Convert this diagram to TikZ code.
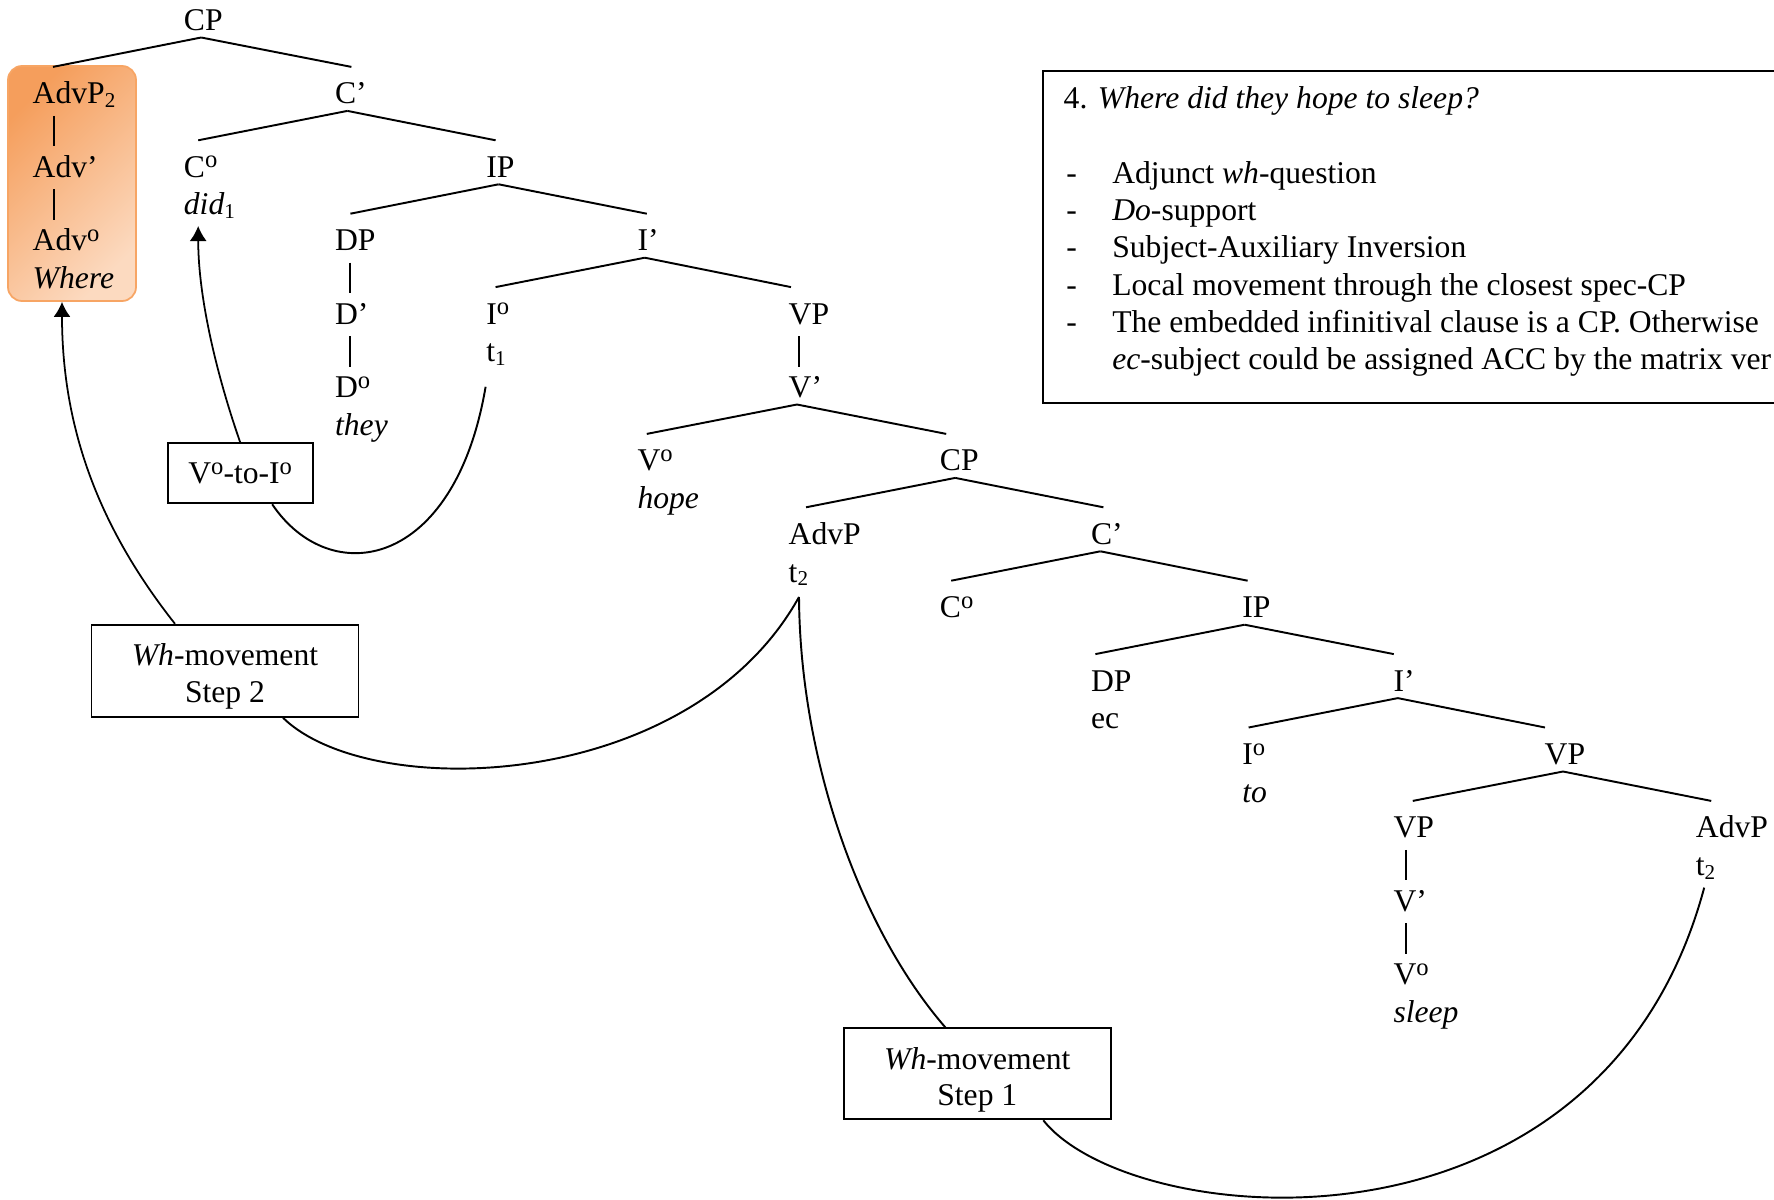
\documentclass[tikz,border=0pt]{standalone}
\usepackage{fontspec}
\setmainfont{Liberation Serif}
\usepackage{tikz}
\usetikzlibrary{calc, arrows.meta}
\definecolor{advdark}{RGB}{245,158,92}
\definecolor{advlight}{RGB}{252,218,192}
\definecolor{advedge}{RGB}{247,165,100}
\newcommand{\hzero}{\raisebox{2.7pt}{\fontsize{7pt}{7pt}\selectfont o}}
\newcommand{\trc}[1]{t\textsubscript{#1}}

\begin{document}
\begin{tikzpicture}[x=0.1mm,y=-0.1mm,
  every node/.style={font=\fontsize{9pt}{10.4pt}\selectfont},
  lbl/.style={inner sep=0pt,anchor=base west},
  branch/.style={line width=0.55pt},
  movebox/.style={draw,rectangle,line width=0.55pt,align=center,inner sep=0pt},
  movearrow/.style={line width=0.5pt,-{Latex[length=1.5mm,width=1.7mm]}}]
\clip (0,0) rectangle (1774,1200);

% the moved adverb, shaded
\node[rectangle,rounded corners=1.4mm,draw=advedge,line width=0.5pt,top color=advdark,bottom color=advlight,shading angle=45,minimum width=12.8mm,minimum height=23.5mm] (whbox) at (72,183.5) {};

% matrix clause
\node[lbl] (cpA) at (183.2,30.5) {CP};
\node[lbl] (advpA) at (32,103.9) {AdvP\textsubscript{2}};
\node[lbl] (advbarA) at (32,177.3) {Adv’};
\node[lbl] (advzeroA) at (32,250.7) {Adv\hzero};
\node[lbl] (whereA) at (32,288.4) {\textit{Where}};
\node[lbl] (cbarA) at (334.4,103.9) {C’};
\node[lbl] (czeroA) at (183.2,177.3) {C\hzero};
\node[lbl] (didA) at (183.2,215) {\textit{did}\textsubscript{1}};
\node[lbl] (ipA) at (485.6,177.3) {IP};
\node[lbl] (dpA) at (334.4,250.7) {DP};
\node[lbl] (dbarA) at (334.4,324.1) {D’};
\node[lbl] (dzeroA) at (334.4,397.5) {D\hzero};
\node[lbl] (theyA) at (334.4,435.2) {\textit{they}};
\node[lbl] (ibarA) at (636.8,250.7) {I’};
\node[lbl] (izeroA) at (485.6,324.1) {I\hzero};
\node[lbl] (tA) at (485.6,361.8) {\trc{1}};
\node[lbl] (vpA) at (788,324.1) {VP};
\node[lbl] (vbarA) at (788,397.5) {V’};
\node[lbl] (vzeroA) at (636.8,470.9) {V\hzero};
\node[lbl] (hopeA) at (636.8,508.6) {\textit{hope}};

% embedded clause
\node[lbl] (cpB) at (939.2,470.9) {CP};
\node[lbl] (advpB) at (788,544.3) {AdvP};
\node[lbl] (tB) at (788,582) {\trc{2}};
\node[lbl] (cbarB) at (1090.4,544.3) {C’};
\node[lbl] (czeroB) at (939.2,617.7) {C\hzero};
\node[lbl] (ipB) at (1241.6,617.7) {IP};
\node[lbl] (dpB) at (1090.4,691.1) {DP};
\node[lbl] (ecB) at (1090.4,728.8) {ec};
\node[lbl] (ibarB) at (1392.8,691.1) {I’};
\node[lbl] (izeroB) at (1241.6,764.5) {I\hzero};
\node[lbl] (toB) at (1241.6,802.2) {\textit{to}};
\node[lbl] (vpB) at (1544,764.5) {VP};
\node[lbl] (vpC) at (1392.8,837.9) {VP};
\node[lbl] (vbarC) at (1392.8,911.3) {V’};
\node[lbl] (vzeroC) at (1392.8,984.7) {V\hzero};
\node[lbl] (sleepC) at (1392.8,1022.4) {\textit{sleep}};
\node[lbl] (advpC) at (1695.2,837.9) {AdvP};
\node[lbl] (tC) at (1695.2,875.6) {\trc{2}};

% branches
\draw[branch] ($(cpA.base west)+(18,7)$) -- ($(advpA.base west)+(21,-37)$);
\draw[branch] ($(cpA.base west)+(18,7)$) -- ($(cbarA.base west)+(17,-37)$);
\draw[branch] ($(cbarA.base west)+(13,7)$) -- ($(czeroA.base west)+(15,-37)$);
\draw[branch] ($(cbarA.base west)+(13,7)$) -- ($(ipA.base west)+(10,-37)$);
\draw[branch] ($(ipA.base west)+(13,7)$) -- ($(dpA.base west)+(16,-37)$);
\draw[branch] ($(ipA.base west)+(13,7)$) -- ($(ibarA.base west)+(10,-37)$);
\draw[branch] ($(ibarA.base west)+(8,7)$) -- ($(izeroA.base west)+(10,-37)$);
\draw[branch] ($(ibarA.base west)+(8,7)$) -- ($(vpA.base west)+(3,-37)$);
\draw[branch] ($(vbarA.base west)+(9,7)$) -- ($(vzeroA.base west)+(10,-37)$);
\draw[branch] ($(vbarA.base west)+(9,7)$) -- ($(cpB.base west)+(7,-37)$);
\draw[branch] ($(cpB.base west)+(16,7)$) -- ($(advpB.base west)+(18,-37)$);
\draw[branch] ($(cpB.base west)+(16,7)$) -- ($(cbarB.base west)+(13,-37)$);
\draw[branch] ($(cbarB.base west)+(10,7)$) -- ($(czeroB.base west)+(12,-37)$);
\draw[branch] ($(cbarB.base west)+(10,7)$) -- ($(ipB.base west)+(6,-37)$);
\draw[branch] ($(ipB.base west)+(3,7)$) -- ($(dpB.base west)+(5,-37)$);
\draw[branch] ($(ipB.base west)+(3,7)$) -- ($(ibarB.base west)+(1,-37)$);
\draw[branch] ($(ibarB.base west)+(5,7)$) -- ($(izeroB.base west)+(7,-37)$);
\draw[branch] ($(ibarB.base west)+(5,7)$) -- ($(vpB.base west)+(1,-37)$);
\draw[branch] ($(vpB.base west)+(19,7)$) -- ($(vpC.base west)+(20,-37)$);
\draw[branch] ($(vpB.base west)+(19,7)$) -- ($(advpC.base west)+(16,-37)$);
% unary branches
\draw[branch] ($(advpA.base west)+(22,12)$) -- ($(advbarA.base west)+(22,-31)$);
\draw[branch] ($(advbarA.base west)+(22,12)$) -- ($(advzeroA.base west)+(22,-31)$);
\draw[branch] ($(dpA.base west)+(16,12)$) -- ($(dbarA.base west)+(16,-31)$);
\draw[branch] ($(dbarA.base west)+(16,12)$) -- ($(dzeroA.base west)+(16,-31)$);
\draw[branch] ($(vpA.base west)+(11,12)$) -- ($(vbarA.base west)+(11,-31)$);
\draw[branch] ($(vpC.base west)+(13,12)$) -- ($(vbarC.base west)+(13,-31)$);
\draw[branch] ($(vbarC.base west)+(13,12)$) -- ($(vzeroC.base west)+(13,-31)$);

% movement labels
\node[movebox,minimum width=14.5mm,minimum height=6mm] (vtoi) at (240.2,473.3) {V\hzero-to-I\hzero};
\node[movebox,minimum width=26.7mm,minimum height=9.2mm] (steptwo) at (225,670.8) {\rule{0pt}{9.5pt}\textit{Wh}-movement\\Step 2};
\node[movebox,minimum width=26.7mm,minimum height=9.1mm] (stepone) at (977.3,1073.8) {\rule{0pt}{9.8pt}\textit{Wh}-movement\\Step 1};

% V-to-I
\draw[movearrow] (vtoi.north) .. controls +(-22,-63) and +(0,74) .. ($(didA.base west)+(15,11)$);
\draw[branch] ($(tA.base west)+(0,25)$) .. controls +(-31,183) and +(58,86) .. ($(vtoi.south)+(32,0)$);
% wh-movement, step 2
\draw[movearrow] ($(steptwo.north)+(-50,0)$) .. controls +(-75,-95) and +(0,128) .. ($(whbox.south)+(-10,0)$);
\draw[branch] ($(steptwo.south)+(58,0)$) .. controls +(87,85) and +(-109,196) .. ($(tB.base west)+(11,15)$);
% wh-movement, step 1
\draw[branch] ($(tB.base west)+(11,15)$) .. controls +(1,163) and +(-85,-98) .. ($(stepone.north)+(-32,0)$);
\draw[branch] ($(stepone.south)+(66,0)$) .. controls +(87,110) and +(-104,388) .. ($(tC.base west)+(9,12)$);

% notes
\node[draw,rectangle,line width=0.55pt,anchor=north west,minimum width=76mm,minimum height=33.2mm] (notebox) at (1042,70) {};
\node[lbl] (noteTitle) at (1063,109) {4. \textit{Where did they hope to sleep?}};
\node[lbl] (dashA) at (1065.6,183.5) {-};
\node[lbl] (lineA) at (1111.6,183.5) {Adjunct \textit{wh}-question};
\node[lbl] (dashB) at (1065.6,220.7) {-};
\node[lbl] (lineB) at (1111.6,220.7) {\textit{Do}-support};
\node[lbl] (dashC) at (1065.6,257.9) {-};
\node[lbl] (lineC) at (1111.6,257.9) {Subject-Auxiliary Inversion};
\node[lbl] (dashD) at (1065.6,295.1) {-};
\node[lbl] (lineD) at (1111.6,295.1) {Local movement through the closest spec-CP};
\node[lbl] (dashE) at (1065.6,332.3) {-};
\node[lbl] (lineE) at (1111.6,332.3) {The embedded infinitival clause is a CP. Otherwise};
\node[lbl] (lineF) at (1111.6,369.5) {\textit{ec}-subject could be assigned ACC by the matrix ver};
\end{tikzpicture}
\end{document}
